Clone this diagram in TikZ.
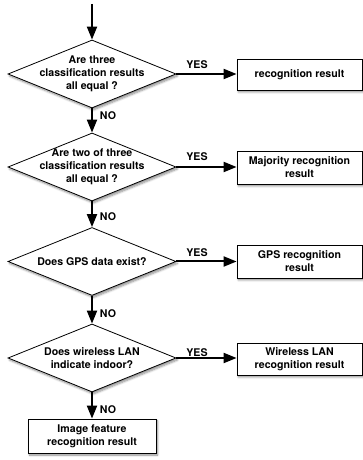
\documentclass[tikz,border=0pt]{standalone}
\usepackage{fontspec}
\setmainfont{TeX Gyre Heros}
\usetikzlibrary{shapes.geometric,arrows.meta,shadows.blur}
\begin{document}
\begin{tikzpicture}[x=1pt,y=1pt,
  every node/.style={font=\fontsize{10.6}{13}\selectfont\bfseries},
  shade/.style={blur shadow={shadow xshift=1.5pt,shadow yshift=-2pt,shadow blur steps=6,shadow opacity=45}},
  decision/.style={shape=diamond,draw,line width=0.8pt,fill=white,minimum width=168pt,minimum height=68pt,inner sep=0pt,shade},
  result/.style={rectangle,draw,line width=0.8pt,fill=white,minimum width=125pt,minimum height=32pt,inner sep=1pt,align=center,shade},
  flow/.style={line width=2pt,-{Triangle[length=13pt,width=10pt]}},
  lbl/.style={inner sep=0pt}
]
\useasboundingbox (0,0) rectangle (363,460);

\coordinate (start) at (92,456);

\node[decision,label={[align=center]center:Are three\\classification results\\all equal ?}] (d1) at (92,386) {};
\node[decision,label={[align=center]center:Are two of three\\classification results\\all equal ?}] (d2) at (92,293) {};
\node[decision,label={[align=center]center:Does GPS data exist?}] (d3) at (92,198.5) {};
\node[decision,label={[align=center]center:Does wireless LAN\\indicate indoor?}] (d4) at (92,102) {};

\node[result,minimum height=31pt] (b1) at (299.5,385.5) {recognition result};
\node[result,minimum height=33pt] (b2) at (299.5,292.5) {Majority recognition\\result};
\node[result,minimum height=33pt] (b3) at (299.5,198.5) {GPS recognition\\result};
\node[result] (b4) at (299.5,101) {Wireless LAN\\recognition result};
\node[result,minimum width=128pt,minimum height=34pt] (b5) at (92,24) {Image feature\\recognition result};

\draw[flow] (start) -- (d1.north);
\draw[flow] (d1.east) -- (d1.east -| b1.west);
\draw[flow] (d2.east) -- (d2.east -| b2.west);
\draw[flow] (d3.east) -- (d3.east -| b3.west);
\draw[flow] (d4.east) -- (d4.east -| b4.west);
\draw[flow] (d1.south) -- (d2.north);
\draw[flow] (d2.south) -- (d3.north);
\draw[flow] (d3.south) -- (d4.north);
\draw[flow] (d4.south) -- (b5.north);

\node[lbl] (y1) at (197,395) {YES};
\node[lbl] (y2) at (197,303) {YES};
\node[lbl] (y3) at (197,207) {YES};
\node[lbl] (y4) at (197,107) {YES};
\node[lbl] (n1) at (108,344) {NO};
\node[lbl] (n2) at (108,243) {NO};
\node[lbl] (n3) at (108,146) {NO};
\node[lbl] (n4) at (108,50) {NO};
\end{tikzpicture}
\end{document}
